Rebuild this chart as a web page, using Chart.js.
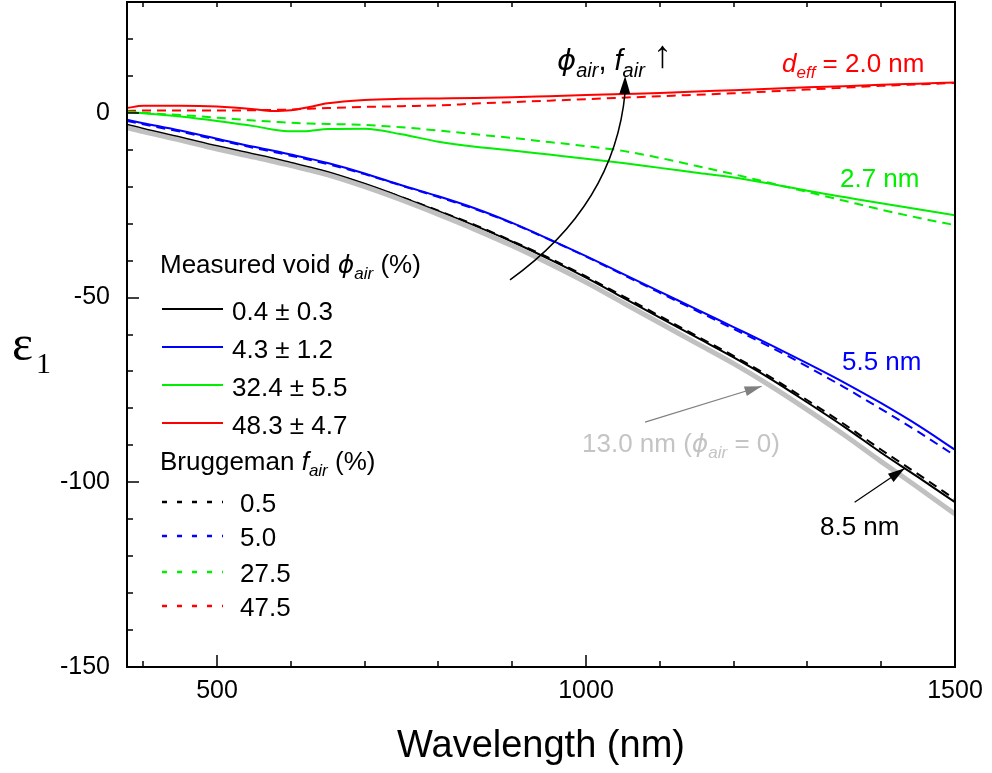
<!DOCTYPE html>
<html>
<head>
<meta charset="utf-8">
<script src="https://cdn.jsdelivr.net/npm/chart.js@4.4.1/dist/chart.umd.min.js"></script>
<style>
html,body{margin:0;padding:0;background:#fff;}
#wrap{position:relative;width:992px;height:773px;font-family:"Liberation Sans",Arial,sans-serif;overflow:hidden;}
#c{position:absolute;left:0;top:0;}
.t{position:absolute;white-space:nowrap;line-height:1;font-size:26px;color:#000;}
.i{font-style:italic;}
.s{font-size:17px;font-style:italic;position:relative;top:6px;}
.ph{font-family:"DejaVu Sans","Liberation Sans",sans-serif;font-style:italic;font-size:25px;}
svg.lg{position:absolute;overflow:visible;}
</style>
</head>
<body>
<div id="wrap">
<canvas id="c" width="992" height="773"></canvas>

<div class="t" style="left:12px;top:318px;font-family:'Liberation Serif','Times New Roman',serif;font-size:50px;">ε</div>
<div class="t" style="left:36px;top:348px;font-family:'Liberation Serif','Times New Roman',serif;font-size:30px;">1</div>

<div class="t" style="left:557px;top:38px;font-size:29px;"><span class="ph" style="font-size:29px;">ϕ</span><span class="s" style="font-size:20px;top:7px;">air</span>, <span class="i">f</span><span class="s" style="font-size:20px;top:7px;">air</span> <span style="font-size:38px;position:relative;top:-3px;">↑</span></div>
<div class="t" style="left:782px;top:50px;color:#ff0000;"><span class="i">d</span><span class="s">eff</span> = 2.0 nm</div>
<div class="t" style="left:840px;top:165px;color:#00ee00;">2.7 nm</div>
<div class="t" style="left:842px;top:348px;color:#0000ff;">5.5 nm</div>
<div class="t" style="left:582px;top:430px;color:#c4c4c4;">13.0 nm (<span class="ph">ϕ</span><span class="s">air</span> = 0)</div>
<div class="t" style="left:820px;top:513px;">8.5 nm</div>

<div class="t" style="left:160px;top:251px;">Measured void <span class="ph">ϕ</span><span class="s">air</span> (%)</div>
<div class="t" style="left:232px;top:298px;">0.4 ± 0.3</div>
<div class="t" style="left:232px;top:336px;">4.3 ± 1.2</div>
<div class="t" style="left:232px;top:374px;">32.4 ± 5.5</div>
<div class="t" style="left:232px;top:412px;">48.3 ± 4.7</div>
<div class="t" style="left:160px;top:448px;">Bruggeman <span class="i">f</span><span class="s">air</span> (%)</div>
<div class="t" style="left:240px;top:490px;">0.5</div>
<div class="t" style="left:240px;top:524px;">5.0</div>
<div class="t" style="left:240px;top:560px;">27.5</div>
<div class="t" style="left:240px;top:594px;">47.5</div>

<svg class="lg" style="left:0;top:0;" width="992" height="773">
  <line x1="162" y1="309" x2="223" y2="309" stroke="#000" stroke-width="2"/>
  <line x1="162" y1="347" x2="223" y2="347" stroke="#0000ff" stroke-width="2"/>
  <line x1="162" y1="385" x2="223" y2="385" stroke="#00ee00" stroke-width="2"/>
  <line x1="162" y1="423" x2="223" y2="423" stroke="#ff0000" stroke-width="2"/>
  <line x1="162" y1="502" x2="223" y2="502" stroke="#000" stroke-width="2.5" stroke-dasharray="5 10"/>
  <line x1="162" y1="536" x2="223" y2="536" stroke="#0000ff" stroke-width="2.5" stroke-dasharray="5 10"/>
  <line x1="162" y1="572" x2="223" y2="572" stroke="#00ee00" stroke-width="2.5" stroke-dasharray="5 10"/>
  <line x1="162" y1="606" x2="223" y2="606" stroke="#ff0000" stroke-width="2.5" stroke-dasharray="5 10"/>
</svg>
</div>

<script>
// ---- data ----
const wavelength = [378,400,450,500,550,575,600,625,650,700,750,800,850,900,950,1000,1050,1100,1150,1200,1250,1300,1350,1400,1450,1500];

const bulk13nm   = [-4.0,-5.1,-7.4,-9.8,-12.0,-13.1,-14.3,-15.5,-16.8,-20.0,-23.6,-27.5,-31.6,-36.0,-40.8,-45.9,-51.4,-56.9,-62.4,-67.9,-73.9,-80.4,-87.2,-94.4,-101.4,-108.6];

const measured04 = [-3.2,-4.3,-6.6,-9.0,-11.2,-12.3,-13.5,-14.7,-16.0,-19.2,-22.8,-26.6,-30.6,-34.9,-39.6,-44.6,-50.0,-55.4,-60.8,-66.2,-72.0,-78.4,-85.0,-92.0,-98.6,-105.4];
const measured43 = [-1.9,-2.8,-4.8,-7.0,-9.2,-10.2,-11.3,-12.4,-13.6,-16.4,-19.6,-22.6,-25.9,-29.8,-34.2,-38.8,-43.6,-48.4,-53.2,-58.0,-62.8,-67.8,-73.0,-78.6,-84.6,-91.2];
const measured324= [0.3,-0.1,-1.0,-2.2,-3.6,-4.5,-5.0,-4.9,-4.4,-4.3,-5.8,-7.8,-9.2,-10.2,-11.3,-12.4,-13.6,-14.9,-16.2,-17.5,-19.2,-21.1,-22.8,-24.5,-26.1,-27.7];
const measured483= [1.3,1.9,1.9,1.7,1.0,0.5,0.7,1.6,2.6,3.5,3.8,3.9,4.0,4.2,4.5,4.8,5.1,5.4,5.8,6.1,6.5,6.9,7.2,7.6,7.9,8.2];

const brugg05    = [-3.4,-4.5,-6.8,-9.2,-11.4,-12.5,-13.7,-14.9,-16.2,-19.3,-22.8,-26.5,-30.4,-34.7,-39.3,-44.3,-49.6,-55.0,-60.4,-65.8,-71.5,-77.8,-84.3,-91.2,-97.8,-104.6];
const brugg50    = [-2.2,-3.1,-5.1,-7.3,-9.5,-10.5,-11.6,-12.7,-13.9,-16.6,-19.7,-22.8,-26.1,-29.9,-34.3,-38.9,-43.8,-48.7,-53.6,-58.5,-63.4,-68.7,-74.3,-80.2,-86.3,-92.8];
const brugg275   = [0.3,0.0,-0.6,-1.3,-2.1,-2.4,-2.7,-2.9,-3.0,-3.3,-3.9,-4.8,-5.8,-6.8,-7.9,-9.0,-10.3,-12.2,-14.4,-16.6,-19.0,-21.4,-23.8,-26.2,-28.4,-30.4];
const brugg475   = [0.5,0.6,0.6,0.6,0.7,0.8,0.9,1.1,1.3,1.6,1.8,2.0,2.5,2.9,3.3,3.7,4.1,4.5,4.9,5.3,5.8,6.3,6.8,7.3,7.7,8.1];

const xTicks = [400,500,600,700,800,900,1000,1100,1200,1300,1400,1500];
const yTicks = [-150,-140,-130,-120,-110,-100,-90,-80,-70,-60,-50,-40,-30,-20,-10,0,10,20,30];
const xLabelled = [500,1000,1500];
const yLabelled = [-150,-100,-50,0];

// annotation arrows in data units [wavelength, eps1]
const curveArrowStart = [897,-45.2];
const curveArrowCtrl  = [1039,-24.9];
const curveArrowTip   = [1053,10.0];
const grayArrowTail = [1080,-83.7];
const grayArrowTip  = [1238,-74.0];
const blackArrowTail = [1364,-105.4];
const blackArrowTip  = [1432,-96.2];

function pts(arr){ return wavelength.map((w,i)=>({x:w,y:arr[i]})); }
const GREEN='#00ee00';
function ds(data,color,dashed,width){
  return {data:pts(data),borderColor:color,borderWidth:width||2,borderDash:dashed?[9,6]:[],
    pointRadius:0,fill:false,cubicInterpolationMode:'monotone'};
}

const frameTicks = {
  id:'frameTicks',
  afterDraw(chart){
    const {ctx, chartArea:{left,right,top,bottom}, scales:{x,y}} = chart;
    ctx.save();
    ctx.strokeStyle='#000'; ctx.lineWidth=1.5;
    xTicks.forEach(v=>{
      const px=Math.round(x.getPixelForValue(v));
      const len = xLabelled.includes(v)?12:6;
      ctx.beginPath(); ctx.moveTo(px,bottom); ctx.lineTo(px,bottom-len);
      ctx.moveTo(px,top); ctx.lineTo(px,top+5); ctx.stroke();
    });
    yTicks.forEach(v=>{
      const py=Math.round(y.getPixelForValue(v));
      const len = yLabelled.includes(v)?12:6;
      ctx.beginPath(); ctx.moveTo(left,py); ctx.lineTo(left+len,py); ctx.stroke();
    });
    ctx.lineWidth=2;
    ctx.strokeRect(left,top,right-left,bottom-top);
    ctx.restore();
  }
};

function head(ctx,tx,ty,fx,fy,len,w,color){
  const a=Math.atan2(ty-fy,tx-fx);
  ctx.save(); ctx.fillStyle=color;
  ctx.beginPath(); ctx.moveTo(tx,ty);
  ctx.lineTo(tx-len*Math.cos(a)+w*Math.sin(a), ty-len*Math.sin(a)-w*Math.cos(a));
  ctx.lineTo(tx-len*Math.cos(a)-w*Math.sin(a), ty-len*Math.sin(a)+w*Math.cos(a));
  ctx.closePath(); ctx.fill(); ctx.restore();
}

const arrows = {
  id:'arrows',
  afterDatasetsDraw(chart){
    const {ctx, scales:{x,y}} = chart;
    const P=p=>[x.getPixelForValue(p[0]), y.getPixelForValue(p[1])];
    ctx.save();
    const s=P(curveArrowStart), c=P(curveArrowCtrl), t=P(curveArrowTip);
    const hl=18;
    ctx.strokeStyle='#000'; ctx.lineWidth=1.5;
    ctx.beginPath(); ctx.moveTo(s[0],s[1]); ctx.quadraticCurveTo(c[0],c[1],t[0],t[1]+hl-2); ctx.stroke();
    head(ctx,t[0],t[1],c[0]+(t[0]-c[0])*0.9, t[1]+60, hl, 5.5,'#000');
    const g0=P(grayArrowTail), g1=P(grayArrowTip);
    ctx.strokeStyle='#808080'; ctx.lineWidth=1.2;
    ctx.beginPath(); ctx.moveTo(g0[0],g0[1]); ctx.lineTo(g1[0],g1[1]); ctx.stroke();
    head(ctx,g1[0],g1[1],g0[0],g0[1],17,5,'#808080');
    const b0=P(blackArrowTail), b1=P(blackArrowTip);
    ctx.strokeStyle='#000'; ctx.lineWidth=1.2;
    ctx.beginPath(); ctx.moveTo(b0[0],b0[1]); ctx.lineTo(b1[0],b1[1]); ctx.stroke();
    head(ctx,b1[0],b1[1],b0[0],b0[1],17,5,'#000');
    ctx.restore();
  }
};

new Chart(document.getElementById('c'),{
  type:'line',
  data:{datasets:[
    ds(bulk13nm,'#c0c0c0',false,5),
    ds(measured04,'#000000',false),
    ds(brugg05,'#000000',true),
    ds(measured43,'#0000ff',false),
    ds(brugg50,'#0000ff',true),
    ds(measured324,GREEN,false),
    ds(brugg275,GREEN,true),
    ds(measured483,'#ff0000',false),
    ds(brugg475,'#ff0000',true)
  ]},
  options:{
    responsive:false, animation:false, devicePixelRatio:1,
    layout:{padding:{top:2,right:37,left:0,bottom:0}},
    plugins:{legend:{display:false},tooltip:{enabled:false}},
    scales:{
      x:{type:'linear',min:378,max:1500,
        afterBuildTicks:s=>{s.ticks=xTicks.map(v=>({value:v}));},
        afterFit:s=>{s.height=106; s.paddingLeft=0; s.paddingRight=0;},
        grid:{display:false,drawTicks:false},border:{display:false},
        ticks:{padding:9,color:'#000',font:{family:'"Liberation Sans", Arial, sans-serif',size:25},maxRotation:0,autoSkip:false,
          callback:v=>xLabelled.includes(v)?String(v):''},
        title:{display:true,text:'Wavelength (nm)',color:'#000',font:{family:'"Liberation Sans", Arial, sans-serif',size:38},padding:{top:0,bottom:4}}
      },
      y:{type:'linear',min:-150,max:30,
        afterBuildTicks:s=>{s.ticks=yTicks.map(v=>({value:v}));},
        afterFit:s=>{s.width=127; s.paddingTop=0; s.paddingBottom=0;},
        grid:{display:false,drawTicks:false},border:{display:false},
        ticks:{padding:17,color:'#000',font:{family:'"Liberation Sans", Arial, sans-serif',size:25},autoSkip:false,
          callback:v=>yLabelled.includes(v)?String(v):''}
      }
    }
  },
  plugins:[frameTicks,arrows]
});
</script>
</body>
</html>
